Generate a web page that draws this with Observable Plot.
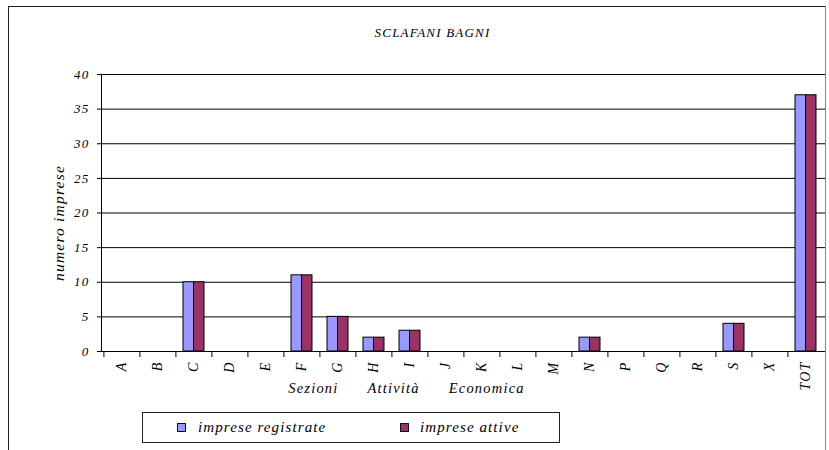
<!DOCTYPE html>
<html><head><meta charset="utf-8">
<script src="https://cdn.jsdelivr.net/npm/d3@7"></script>
<script src="https://cdn.jsdelivr.net/npm/@observablehq/plot@0.6"></script>
<style>
body{margin:0;background:#fff;}
#wrap{position:relative;width:829px;height:450px;overflow:hidden;color:#000;}
#border{position:absolute;left:8px;top:6px;width:818px;height:600px;box-sizing:border-box;border:1.5px solid #222;border-right-color:#888;}
#chart{position:absolute;left:0;top:0;}
#legend{position:absolute;left:142px;top:412px;width:418px;height:31px;box-sizing:border-box;border:1px solid #222;border-right-width:1.5px;border-bottom-width:1.5px;font-size:15px;letter-spacing:1.1px;}
.sw{position:absolute;top:10px;width:9px;height:9px;box-sizing:border-box;border:1.5px solid #111;}
.lt{position:absolute;top:5px;line-height:18px;white-space:nowrap;}
</style>
</head><body>
<div id="wrap" style="font-family:'Liberation Serif',serif;font-style:italic">
  <div id="border"></div>
  <div id="chart"></div>
  <div id="legend"></div>
</div>
<script>
const categories = ["A","B","C","D","E","F","G","H","I","J","K","L","M","N","P","Q","R","S","X","TOT"];
const registrate = [0,0,10,0,0,11,5,2,3,0,0,0,0,2,0,0,0,4,0,37];
const attive     = [0,0,10,0,0,11,5,2,3,0,0,0,0,2,0,0,0,4,0,37];
const yTicks = [0,5,10,15,20,25,30,35,40];
const seriesNames = ["imprese registrate","imprese attive"];
const seriesColors = ["#9999FF","#993366"];
const title = "SCLAFANI BAGNI";
const yLabel = "numero imprese";
const xLabel = "Sezioni\u00A0\u00A0\u00A0\u00A0\u00A0\u00A0Attività\u00A0\u00A0\u00A0\u00A0\u00A0\u00A0Economica";

const FONT = "Liberation Serif";
const W = 829, H = 405, mL = 101, mR = 4, mT = 74, mB = 54;
const step = (W - mL - mR) / categories.length;
const padIn = 0.42;
const half = step * (1 - padIn) / 2;
const rows = categories.map((c, i) => ({cat: c, reg: registrate[i], att: attive[i]}));

const chart = Plot.plot({
  width: W, height: H,
  marginLeft: mL, marginRight: mR, marginTop: mT, marginBottom: mB,
  style: {fontFamily: FONT, fontStyle: "italic", fontSize: "12px", color: "#000", background: "transparent", overflow: "visible"},
  x: {type: "band", domain: categories, paddingInner: padIn, paddingOuter: padIn / 2, label: null},
  y: {domain: [0, 40], label: null},
  marks: [
    Plot.gridY(yTicks, {stroke: "#000", strokeOpacity: 1}),
    Plot.barY(rows, {x: "cat", y: "reg", fill: seriesColors[0], stroke: "#000", strokeWidth: 1, insetRight: half}),
    Plot.barY(rows, {x: "cat", y: "att", fill: seriesColors[1], stroke: "#000", strokeWidth: 1, insetLeft: half}),
    Plot.ruleY([0], {stroke: "#000"}),
    Plot.frame({anchor: "left", stroke: "#000"}),
    Plot.axisY(yTicks, {tickSize: 4, tickPadding: 8, label: null, fontSize: 13}),
    Plot.axisX({tickSize: 6, tickFormat: () => "", dx: -step / 2, label: null}),
    Plot.axisX({tickSize: 0, tickPadding: 10, tickRotate: -90, label: null, fontSize: 14}),
    Plot.text([title], {text: d => d, frameAnchor: "top", lineAnchor: "middle", textAnchor: "middle", dx: -31, dy: -42, fontSize: 13}),
    Plot.text([yLabel], {text: d => d, frameAnchor: "left", lineAnchor: "middle", textAnchor: "middle", rotate: -90, dx: -42, dy: 10, fontSize: 15.5}),
    Plot.text([xLabel], {text: d => d, frameAnchor: "bottom", lineAnchor: "middle", textAnchor: "middle", dx: -57, dy: 37, fontSize: 14.5})
  ]
});
d3.select(chart).selectAll("g").attr("font-family", FONT).attr("font-style", "italic");
d3.select(chart).selectAll("text").attr("font-family", FONT).attr("font-style", "italic").style("letter-spacing", "1.2px");
document.getElementById("chart").appendChild(chart);

const legend = document.getElementById("legend");
const swLeft = [34, 257], txLeft = [55, 277];
seriesNames.forEach((name, i) => {
  const sw = document.createElement("div");
  sw.className = "sw";
  sw.style.left = swLeft[i] + "px";
  sw.style.background = seriesColors[i];
  legend.appendChild(sw);
  const t = document.createElement("div");
  t.className = "lt";
  t.style.left = txLeft[i] + "px";
  t.style.fontFamily = FONT;
  t.textContent = name;
  legend.appendChild(t);
});
</script>
</body></html>
